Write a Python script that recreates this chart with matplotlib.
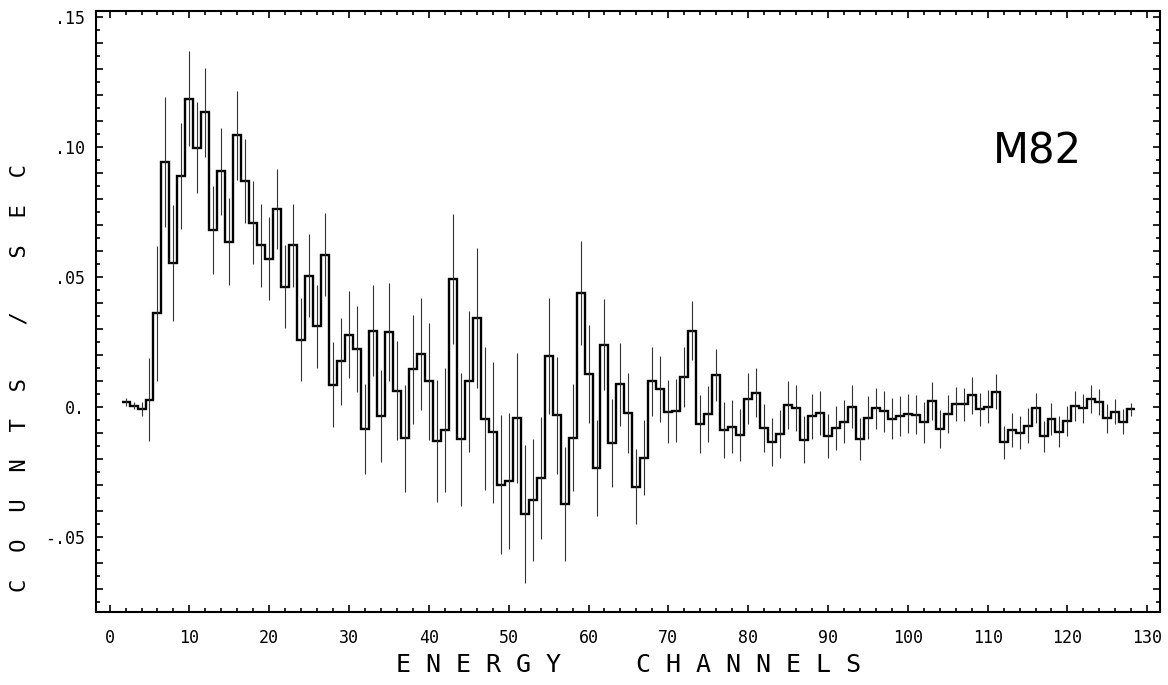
import numpy as np
import matplotlib
matplotlib.use("Agg")
from matplotlib import pyplot as plt
from matplotlib import font_manager as fm
from matplotlib.ticker import MultipleLocator, FuncFormatter

# channel numbers 2..128 (bins centred on integers)
channels = list(range(2, 129))

counts = [
	0.0020, 0.0005, -0.0010, 0.0027, 0.0361, 0.0943, 0.0555, 0.0890, 0.1187, 0.0998,
	0.1135, 0.0680, 0.0907, 0.0636, 0.1046, 0.0869, 0.0709, 0.0622, 0.0571, 0.0763,
	0.0463, 0.0622, 0.0258, 0.0505, 0.0310, 0.0586, 0.0085, 0.0175, 0.0278, 0.0222,
	-0.0085, 0.0294, -0.0036, 0.0288, 0.0062, -0.0121, 0.0145, 0.0204, 0.0098, -0.0131,
	-0.0089, 0.0493, -0.0125, 0.0098, 0.0342, -0.0046, -0.0098, -0.0300, -0.0285, -0.0044,
	-0.0412, -0.0358, -0.0275, 0.0197, -0.0033, -0.0374, -0.0118, 0.0438, 0.0127, -0.0234,
	0.0239, -0.0138, 0.0087, -0.0022, -0.0307, -0.0195, 0.0098, 0.0068, -0.0018, -0.0014,
	0.0114, 0.0294, -0.0066, -0.0027, 0.0123, -0.0089, -0.0076, -0.0108, 0.0031, 0.0055,
	-0.0082, -0.0134, -0.0104, 0.0008, -0.0005, -0.0127, -0.0037, -0.0024, -0.0112, -0.0082,
	-0.0057, 0.0001, -0.0124, -0.0041, -0.0005, -0.0016, -0.0046, -0.0035, -0.0027, -0.0031,
	-0.0060, 0.0023, -0.0086, -0.0028, 0.0010, 0.0010, 0.0044, -0.0009, 0.0001, 0.0058,
	-0.0136, -0.0089, -0.0099, -0.0072, -0.0005, -0.0114, -0.0046, -0.0096, -0.0053, 0.0005,
	-0.0005, 0.0030, 0.0017, -0.0044, -0.0018, -0.0057, -0.0009,
]

errors = [
	0.0015, 0.0015, 0.0027, 0.0160, 0.0260, 0.0250, 0.0224, 0.0203, 0.0184, 0.0176,
	0.0172, 0.0170, 0.0167, 0.0167, 0.0172, 0.0162, 0.0160, 0.0160, 0.0160, 0.0155,
	0.0160, 0.0160, 0.0160, 0.0160, 0.0160, 0.0160, 0.0163, 0.0168, 0.0167, 0.0166,
	0.0175, 0.0175, 0.0177, 0.0190, 0.0190, 0.0205, 0.0210, 0.0217, 0.0226, 0.0236,
	0.0240, 0.0250, 0.0257, 0.0270, 0.0270, 0.0276, 0.0272, 0.0267, 0.0263, 0.0250,
	0.0267, 0.0235, 0.0235, 0.0224, 0.0225, 0.0218, 0.0207, 0.0200, 0.0190, 0.0185,
	0.0175, 0.0170, 0.0160, 0.0154, 0.0144, 0.0145, 0.0134, 0.0128, 0.0122, 0.0122,
	0.0116, 0.0114, 0.0110, 0.0107, 0.0101, 0.0106, 0.0103, 0.0101, 0.0098, 0.0094,
	0.0093, 0.0093, 0.0092, 0.0093, 0.0088, 0.0090, 0.0085, 0.0084, 0.0085, 0.0085,
	0.0084, 0.0083, 0.0082, 0.0082, 0.0079, 0.0079, 0.0079, 0.0076, 0.0075, 0.0075,
	0.0078, 0.0074, 0.0074, 0.0072, 0.0066, 0.0064, 0.0070, 0.0064, 0.0064, 0.0067,
	0.0064, 0.0064, 0.0063, 0.0066, 0.0058, 0.0059, 0.0061, 0.0060, 0.0058, 0.0058,
	0.0056, 0.0055, 0.0050, 0.0057, 0.0048, 0.0047, 0.0025,
]

x = np.asarray(channels, dtype=float)
y = np.asarray(counts)
err = np.asarray(errors)
edges = np.append(x - 0.5, x[-1] + 0.5)

# narrow font for the source label, if there is one
names = {f.name for f in fm.fontManager.ttflist}
label_font = 'Liberation Sans Narrow' if 'Liberation Sans Narrow' in names else 'DejaVu Sans'

fig = plt.figure(figsize=(11.68, 6.85), dpi=100)
ax = fig.add_axes([0.0822, 0.1066, 0.911, 0.8774])

ax.vlines(x, y - err, y + err, color='#333333', linewidth=0.8)
ax.stairs(y, edges, baseline=None, color='black', linewidth=1.7)

ax.set_xlim(-1.7, 131.6)
ax.set_ylim(-0.079, 0.1525)

ax.xaxis.set_major_locator(MultipleLocator(10))
ax.xaxis.set_minor_locator(MultipleLocator(2))
ax.yaxis.set_major_locator(MultipleLocator(0.01))
ax.yaxis.set_minor_locator(MultipleLocator(0.005))

def ylab(v, pos):
	k = int(round(v * 100))
	if k % 5 != 0:
		return ''
	if k == 0:
		return '0.'
	s = '%.2f' % (k / 100.0)
	return s.replace('0.', '.')

ax.yaxis.set_major_formatter(FuncFormatter(ylab))

ax.tick_params(which='both', direction='in', top=True, right=True, width=1.2)
ax.tick_params(which='major', length=5)
ax.tick_params(which='minor', length=3)
ax.tick_params(axis='x', which='major', pad=12)
ax.tick_params(axis='y', which='major', pad=8)
for lab in ax.get_xticklabels() + ax.get_yticklabels():
	lab.set_family('DejaVu Sans Mono')
	lab.set_fontsize(12)
for sp in ax.spines.values():
	sp.set_linewidth(1.5)

fig.text(628 / 1168, 1 - 665 / 685, 'E N E R G Y     C H A N N E L S',
		family='DejaVu Sans Mono', fontsize=18, ha='center', va='center')
fig.text(20 / 1168, 1 - 378 / 685, 'C  O  U  N  T  S    /    S  E  C',
		family='DejaVu Sans Mono', fontsize=16, rotation=90, ha='center', va='center')

fig.text(1037 / 1168, 1 - 152 / 685, 'M82', family=label_font, fontsize=30,
		ha='center', va='center')

fig.savefig('out.png', dpi=100)
